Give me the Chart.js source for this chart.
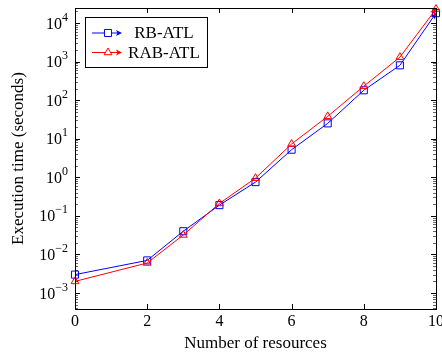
<!DOCTYPE html>
<html>
<head>
<meta charset="utf-8">
<script src="https://cdn.jsdelivr.net/npm/chart.js@4"></script>
<style>
  html, body { margin: 0; padding: 0; background: #fff; overflow: hidden; }
  #wrap { width: 442px; height: 354px; }
</style>
</head>
<body>
<div id="wrap"><canvas id="execChart" width="442" height="354"></canvas></div>
<script>
const resources = [0, 2, 3, 4, 5, 6, 7, 8, 9, 10];
const rbAtl = [0.003, 0.007, 0.04, 0.19, 0.75, 5.2, 25, 180, 800, 18000];
const rabAtl = [0.002, 0.006, 0.032, 0.21, 0.95, 7.3, 38, 230, 1300, 23000];
const xTicks = [0, 2, 4, 6, 8, 10];
const yTickValues = [1e-3, 1e-2, 1e-1, 1e0, 1e1, 1e2, 1e3, 1e4];
const yTickExponents = ['−3', '−2', '−1', '0', '1', '2', '3', '4'];
const serif = '"Liberation Serif", "DejaVu Serif", serif';

const toPoints = (ys) => resources.map((x, i) => ({ x: x, y: ys[i] }));

// frame, inside ticks, 10^n labels, arrow tips and the boxed legend (pgfplots look)
const pgfLook = {
    id: 'pgfLook',
    afterDatasetsDraw(chart) {
        const ctx = chart.ctx;
        const a = chart.chartArea;
        const xs = chart.scales.x, ys = chart.scales.y;
        ctx.save();
        ctx.strokeStyle = '#000';
        ctx.lineWidth = 1;
        ctx.beginPath();
        xTicks.forEach(v => {
            const px = Math.round(xs.getPixelForValue(v)) + 0.5;
            ctx.moveTo(px, a.bottom); ctx.lineTo(px, a.bottom - 5);
            ctx.moveTo(px, a.top); ctx.lineTo(px, a.top + 5);
        });
        yTickValues.forEach(v => {
            const py = Math.round(ys.getPixelForValue(v)) + 0.5;
            ctx.moveTo(a.left, py); ctx.lineTo(a.left + 5, py);
            ctx.moveTo(a.right, py); ctx.lineTo(a.right - 5, py);
        });
        ctx.stroke();
        ctx.beginPath();
        ctx.lineWidth = 0.6;
        for (let e = -4; e <= 4; e++) {
            for (let k = 2; k <= 9; k++) {
                const v = k * Math.pow(10, e);
                if (v < ys.min || v > ys.max) continue;
                const py = Math.round(ys.getPixelForValue(v)) + 0.5;
                ctx.moveTo(a.left, py); ctx.lineTo(a.left + 3, py);
                ctx.moveTo(a.right, py); ctx.lineTo(a.right - 3, py);
            }
        }
        ctx.stroke();
        ctx.lineWidth = 1;
        ctx.strokeRect(Math.round(a.left) + 0.5, Math.round(a.top) + 0.5, Math.round(a.right - a.left), Math.round(a.bottom - a.top));

        // y tick labels with raised exponents
        ctx.fillStyle = '#000';
        ctx.textBaseline = 'alphabetic';
        ctx.textAlign = 'left';
        yTickValues.forEach((v, i) => {
            const py = ys.getPixelForValue(v);
            ctx.font = '12px ' + serif;
            const ew = ctx.measureText(yTickExponents[i]).width;
            ctx.font = '16px ' + serif;
            const bw = ctx.measureText('10').width;
            const right = a.left - 7;
            ctx.fillText('10', right - ew - bw, py + 5.5);
            ctx.font = '12px ' + serif;
            ctx.fillText(yTickExponents[i], right - ew, py - 2.5);
        });

        // arrow tips at the end of each line
        chart.data.datasets.forEach((ds, i) => {
            const pts = chart.getDatasetMeta(i).data;
            const p = pts[pts.length - 1], q = pts[pts.length - 2];
            drawTip(ctx, q.x, q.y, p.x, p.y, ds.borderColor);
        });

        // legend
        const lx = 85, ly = 17, lw = 122, lh = 50;
        ctx.fillStyle = '#fff';
        ctx.fillRect(lx, ly, lw, lh);
        ctx.strokeStyle = '#000';
        ctx.strokeRect(lx + 0.5, ly + 0.5, lw, lh);
        chart.data.datasets.forEach((ds, i) => {
            const y = ly + 16 + i * 19.5;
            ctx.strokeStyle = ds.borderColor;
            ctx.lineWidth = 1;
            ctx.beginPath();
            ctx.moveTo(92, y); ctx.lineTo(118, y);
            ctx.stroke();
            drawTip(ctx, 92, y, 122, y, ds.borderColor);
            ctx.fillStyle = '#fff';
            Chart.helpers.drawPoint(ctx, { pointStyle: ds.pointStyle, radius: ds.pointRadius, borderWidth: 1 }, 108, y);
            ctx.fillStyle = '#000';
            ctx.font = '17px ' + serif;
            ctx.textBaseline = 'middle';
            ctx.textAlign = 'center';
            ctx.fillText(ds.label, 164, y + 1);
        });
        ctx.restore();
    }
};

function drawTip(ctx, x0, y0, x1, y1, color) {
    const ang = Math.atan2(y1 - y0, x1 - x0);
    ctx.save();
    ctx.translate(x1, y1);
    ctx.rotate(ang);
    ctx.fillStyle = color;
    ctx.beginPath();
    ctx.moveTo(0, 0);
    ctx.lineTo(-6, -3);
    ctx.lineTo(-4.5, 0);
    ctx.lineTo(-6, 3);
    ctx.closePath();
    ctx.fill();
    ctx.restore();
}

new Chart(document.getElementById('execChart').getContext('2d'), {
    type: 'line',
    data: {
        datasets: [
            { label: 'RB-ATL', data: toPoints(rbAtl), borderColor: '#0000ff', backgroundColor: 'rgba(0,0,0,0)', pointBorderColor: '#0000ff',
              pointBackgroundColor: 'rgba(0,0,0,0)', borderWidth: 1, pointStyle: 'rect', pointRadius: 5, pointBorderWidth: 1, order: 1, clip: 12 },
            { label: 'RAB-ATL', data: toPoints(rabAtl), borderColor: '#ff0000', backgroundColor: 'rgba(0,0,0,0)', pointBorderColor: '#ff0000',
              pointBackgroundColor: 'rgba(0,0,0,0)', borderWidth: 1, pointStyle: 'triangle', pointRadius: 4.5, pointBorderWidth: 1, order: 0, clip: 12 }
        ]
    },
    options: {
        responsive: false,
        animation: false,
        layout: { padding: { left: 0, right: 5, top: 8, bottom: 0 } },
        plugins: { legend: { display: false }, tooltip: { enabled: false } },
        elements: { line: { tension: 0 } },
        scales: {
            x: {
                type: 'linear', min: 0, max: 10,
                grid: { display: false, drawTicks: false },
                border: { display: false },
                afterBuildTicks: s => { s.ticks = xTicks.map(v => ({ value: v })); },
                afterFit: s => { s.height = 45; s.paddingRight = 0; s.paddingLeft = 0; },
                ticks: { color: '#000', padding: 3, maxRotation: 0, font: { family: serif, size: 16 } },
                title: { display: true, text: 'Number of resources', color: '#000', padding: { top: 0, bottom: 0 }, font: { family: serif, size: 17 } }
            },
            y: {
                type: 'logarithmic', min: 3.85e-4, max: 2.45e4,
                grid: { display: false, drawTicks: false },
                border: { display: false },
                afterBuildTicks: s => { s.ticks = yTickValues.map(v => ({ value: v })); },
                afterFit: s => { s.width = 75; },
                ticks: { display: false },
                title: { display: true, text: 'Execution time (seconds)', color: '#000', padding: { top: 8, bottom: 0 }, font: { family: serif, size: 17 } }
            }
        }
    },
    plugins: [pgfLook]
});
</script>
</body>
</html>
